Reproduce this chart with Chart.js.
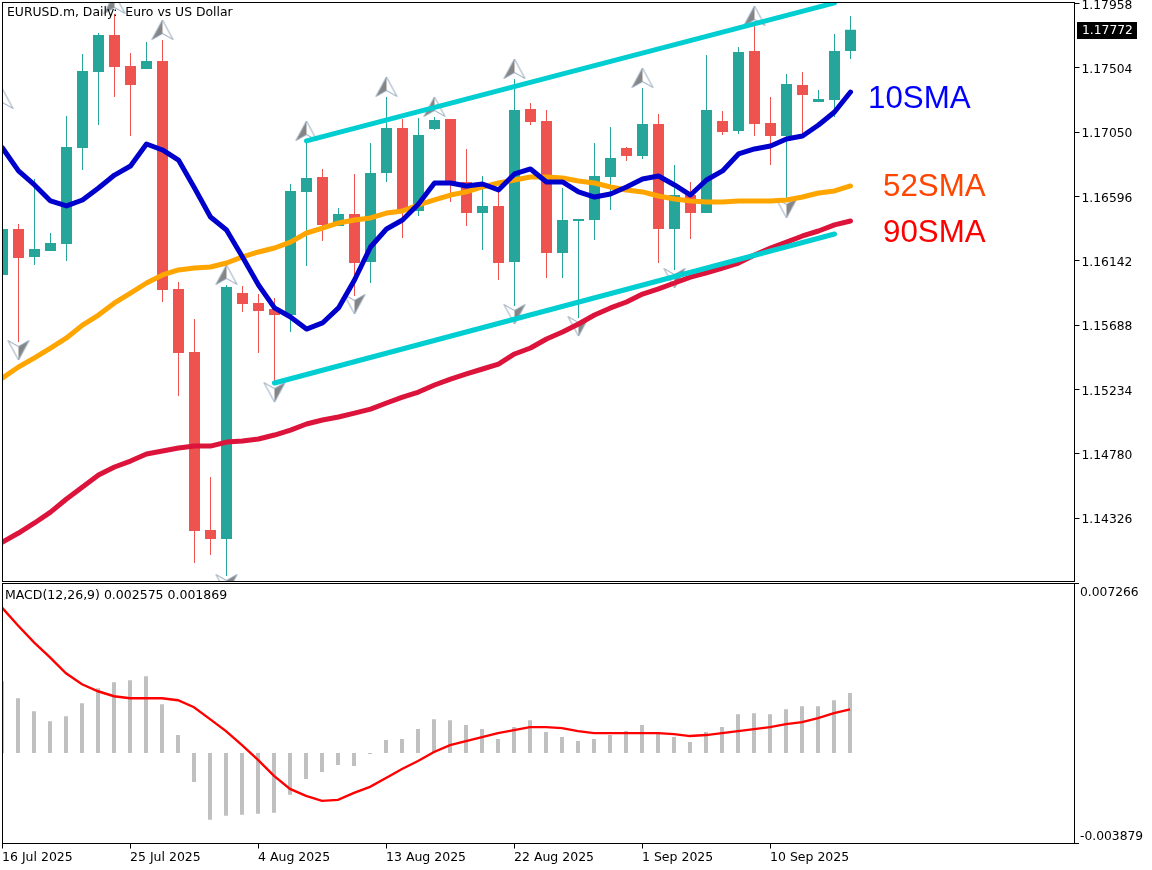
<!DOCTYPE html>
<html>
<head>
<meta charset="utf-8">
<title>EURUSD.m Daily</title>
<script src="https://cdn.jsdelivr.net/npm/chart.js@4/dist/chart.umd.min.js"></script>
<style>
    body { margin: 0; background: #fff; }
    canvas { position: absolute; left: 0; }
    #priceChart { top: 0; }
    #macdChart { top: 582px; }
</style>
</head>
<body>
<canvas id="priceChart" width="1152" height="582"></canvas>
<canvas id="macdChart" width="1152" height="288"></canvas>
<script>
// one slot per daily bar (the broker has Sunday bars), the last 14 are the empty space on the right
const dates = [
    '16 Jul 2025', '17 Jul 2025', '18 Jul 2025', '20 Jul 2025', '21 Jul 2025', '22 Jul 2025', '23 Jul 2025', '24 Jul 2025',
    '25 Jul 2025', '27 Jul 2025', '28 Jul 2025', '29 Jul 2025', '30 Jul 2025', '31 Jul 2025', '1 Aug 2025', '3 Aug 2025',
    '4 Aug 2025', '5 Aug 2025', '6 Aug 2025', '7 Aug 2025', '8 Aug 2025', '10 Aug 2025', '11 Aug 2025', '12 Aug 2025',
    '13 Aug 2025', '14 Aug 2025', '15 Aug 2025', '17 Aug 2025', '18 Aug 2025', '19 Aug 2025', '20 Aug 2025', '21 Aug 2025',
    '22 Aug 2025', '24 Aug 2025', '25 Aug 2025', '26 Aug 2025', '27 Aug 2025', '28 Aug 2025', '29 Aug 2025', '31 Aug 2025',
    '1 Sep 2025', '2 Sep 2025', '3 Sep 2025', '4 Sep 2025', '5 Sep 2025', '7 Sep 2025', '8 Sep 2025', '9 Sep 2025',
    '10 Sep 2025', '11 Sep 2025', '12 Sep 2025', '14 Sep 2025', '15 Sep 2025', '16 Sep 2025',
    '17 Sep 2025', '18 Sep 2025', '19 Sep 2025', '21 Sep 2025', '22 Sep 2025', '23 Sep 2025', '24 Sep 2025',
    '25 Sep 2025', '26 Sep 2025', '28 Sep 2025', '29 Sep 2025', '30 Sep 2025', '1 Oct 2025', '2 Oct 2025'
];
const dateTickEvery = 8;
const lastDateTick = 48;

const opens = [
    1.16042, 1.16366, 1.16169, 1.16211, 1.16260, 1.16938, 1.17475, 1.17736, 1.17517, 1.17496,
    1.17552, 1.15943, 1.15498, 1.14241, 1.14178, 1.15914, 1.15844, 1.15801, 1.15759, 1.16628,
    1.16733, 1.16388, 1.16472, 1.16133, 1.16762, 1.17079, 1.16493, 1.17072, 1.17143, 1.16698,
    1.16479, 1.16529, 1.16133, 1.17213, 1.17129, 1.16197, 1.16423, 1.16430, 1.16733, 1.16938,
    1.16882, 1.17108, 1.16366, 1.16606, 1.16479, 1.17129, 1.17058, 1.17623, 1.17115, 1.17023,
    1.17383, 1.17263, 1.17277, 1.17623
];
const highs = [
    1.16395, 1.16402, 1.16719, 1.16338, 1.17164, 1.17602, 1.17750, 1.17884, 1.17609, 1.17686,
    1.17701, 1.15992, 1.15731, 1.14615, 1.15971, 1.15964, 1.15907, 1.15879, 1.16684, 1.16988,
    1.16790, 1.16515, 1.16755, 1.16973, 1.17298, 1.17143, 1.17150, 1.17157, 1.17143, 1.16931,
    1.16740, 1.16642, 1.17425, 1.17256, 1.17206, 1.16656, 1.16437, 1.16973, 1.17086, 1.16945,
    1.17362, 1.17178, 1.16818, 1.16698, 1.17595, 1.17199, 1.17651, 1.17799, 1.17298, 1.17461,
    1.17475, 1.17348, 1.17743, 1.17870
];
const lows = [
    1.16042, 1.15568, 1.16112, 1.16211, 1.16140, 1.16783, 1.17100, 1.17298, 1.17023, 1.17496,
    1.15851, 1.15187, 1.14008, 1.14065, 1.13916, 1.15780, 1.15491, 1.15279, 1.15639, 1.16105,
    1.16282, 1.16388, 1.15893, 1.15985, 1.16698, 1.16303, 1.16458, 1.17065, 1.16557, 1.16388,
    1.16218, 1.16006, 1.15823, 1.17100, 1.16020, 1.16020, 1.15738, 1.16289, 1.16500, 1.16846,
    1.16860, 1.16126, 1.16077, 1.16296, 1.16479, 1.17030, 1.17037, 1.17023, 1.16818, 1.16571,
    1.17030, 1.17263, 1.17157, 1.17566
];
const closes = [
    1.16366, 1.16162, 1.16225, 1.16267, 1.16945, 1.17482, 1.17736, 1.17510, 1.17383, 1.17552,
    1.15936, 1.15491, 1.14234, 1.14178, 1.15957, 1.15837, 1.15787, 1.15759, 1.16635, 1.16726,
    1.16395, 1.16472, 1.16126, 1.16762, 1.17079, 1.16508, 1.17030, 1.17136, 1.16698, 1.16479,
    1.16529, 1.16126, 1.17206, 1.17122, 1.16197, 1.16430, 1.16437, 1.16740, 1.16868, 1.16882,
    1.17108, 1.16366, 1.16606, 1.16479, 1.17206, 1.17051, 1.17616, 1.17108, 1.17023, 1.17390,
    1.17312, 1.17284, 1.17623, 1.17772
];

const sma10 = [
    1.16938, 1.16776, 1.16677, 1.16564, 1.16529, 1.16571, 1.16656, 1.16747, 1.16811, 1.16966,
    1.16924, 1.16853, 1.16656, 1.16451, 1.16359, 1.16169, 1.15971, 1.15809, 1.15745, 1.15660,
    1.15703, 1.15809, 1.16006, 1.16239, 1.16366, 1.16430, 1.16543, 1.16691, 1.16691, 1.16670,
    1.16684, 1.16642, 1.16755, 1.16790, 1.16698, 1.16698, 1.16628, 1.16592, 1.16613, 1.16663,
    1.16719, 1.16740, 1.16677, 1.16606, 1.16712, 1.16776, 1.16896, 1.16931, 1.16952, 1.17002,
    1.17023, 1.17100, 1.17192, 1.17333
];
const sma52 = [
    1.15314, 1.15392, 1.15456, 1.15526, 1.15597, 1.15688, 1.15759, 1.15844, 1.15914, 1.15985,
    1.16042, 1.16077, 1.16091, 1.16098, 1.16126, 1.16169, 1.16204, 1.16232, 1.16274, 1.16338,
    1.16373, 1.16409, 1.16430, 1.16444, 1.16479, 1.16493, 1.16536, 1.16571, 1.16606, 1.16628,
    1.16663, 1.16691, 1.16712, 1.16733, 1.16733, 1.16726, 1.16705, 1.16691, 1.16663, 1.16642,
    1.16628, 1.16599, 1.16578, 1.16564, 1.16557, 1.16557, 1.16564, 1.16564, 1.16564, 1.16571,
    1.16592, 1.16620, 1.16635, 1.16670
];
const sma90 = [
    1.14156, 1.14220, 1.14291, 1.14368, 1.14460, 1.14545, 1.14629, 1.14686, 1.14728, 1.14778,
    1.14799, 1.14820, 1.14834, 1.14834, 1.14862, 1.14870, 1.14884, 1.14912, 1.14947, 1.14990,
    1.15018, 1.15039, 1.15067, 1.15095, 1.15138, 1.15180, 1.15215, 1.15265, 1.15307, 1.15343,
    1.15378, 1.15413, 1.15484, 1.15526, 1.15590, 1.15639, 1.15696, 1.15759, 1.15809, 1.15851,
    1.15907, 1.15943, 1.15985, 1.16027, 1.16056, 1.16091, 1.16126, 1.16183, 1.16232, 1.16274,
    1.16317, 1.16352, 1.16395, 1.16423
];

const channelTopDates = ['7 Aug 2025', '15 Sep 2025'];
const channelTopPrices = [1.16988, 1.17962];
const channelBottomDates = ['5 Aug 2025', '15 Sep 2025'];
const channelBottomPrices = [1.15279, 1.16331];

const arrowUpDates = ['16 Jul 2025', '24 Jul 2025', '28 Jul 2025', '1 Aug 2025', '7 Aug 2025', '13 Aug 2025', '17 Aug 2025', '22 Aug 2025', '1 Sep 2025', '9 Sep 2025'];
const arrowUpPrices = [1.17284, 1.17955, 1.17771, 1.16042, 1.17058, 1.17369, 1.17228, 1.17496, 1.17432, 1.17870];
const arrowDownDates = ['17 Jul 2025', '1 Aug 2025', '5 Aug 2025', '11 Aug 2025', '22 Aug 2025', '27 Aug 2025', '3 Sep 2025', '11 Sep 2025'];
const arrowDownPrices = [1.15512, 1.13860, 1.15215, 1.15837, 1.15766, 1.15681, 1.16020, 1.16515];

const macdHistogram = [
    0.003074, 0.002349, 0.001793, 0.001366, 0.001580, 0.002135, 0.002776, 0.003032, 0.003117, 0.003288,
    0.002092, 0.000769, -0.001238, -0.002861, -0.002690, -0.002647, -0.002605, -0.002562, -0.001793, -0.001110,
    -0.000811, -0.000512, -0.000555, -0.000043, 0.000555, 0.000598, 0.001025, 0.001452, 0.001409, 0.001196,
    0.001025, 0.000598, 0.001110, 0.001409, 0.000897, 0.000683, 0.000512, 0.000598, 0.000769, 0.000939,
    0.001196, 0.000854, 0.000683, 0.000470, 0.000897, 0.001110, 0.001665, 0.001708, 0.001665, 0.001879,
    0.002007, 0.002007, 0.002263, 0.002575
];
const macdSignal = [
    0.006234, 0.005466, 0.004740, 0.004099, 0.003416, 0.002946, 0.002647, 0.002434, 0.002349, 0.002349,
    0.002349, 0.002263, 0.001964, 0.001452, 0.000939, 0.000342, -0.000299, -0.000982, -0.001537, -0.001836,
    -0.002050, -0.002007, -0.001708, -0.001452, -0.001068, -0.000683, -0.000342, 0.000043, 0.000342, 0.000512,
    0.000683, 0.000854, 0.000982, 0.001110, 0.001110, 0.001068, 0.000939, 0.000854, 0.000854, 0.000854,
    0.000854, 0.000854, 0.000811, 0.000726, 0.000769, 0.000854, 0.000939, 0.001025, 0.001110, 0.001238,
    0.001324, 0.001495, 0.001708, 0.001869
];

const priceTicks = [1.17958, 1.17504, 1.17050, 1.16596, 1.16142, 1.15688, 1.15234, 1.14780, 1.14326];
const macdTicks = [0.007266, -0.003879];
const lastPrice = 1.17772;

const UP_COLOR = '#26a69a';
const DOWN_COLOR = '#ef5350';

Chart.defaults.font.family = '"DejaVu Sans", sans-serif';
Chart.defaults.font.size = 12.5;
Chart.defaults.color = '#000';
Chart.defaults.animation = false;

const candleColors = closes.map((c, i) => c >= opens[i] ? UP_COLOR : DOWN_COLOR);

// grey half / white half arrow used by the fractal marks
function makeArrow(pointsDown) {
    const c = document.createElement('canvas');
    c.width = 24;
    c.height = 22;
    const g = c.getContext('2d');
    if (pointsDown) {
        g.translate(24, 22);
        g.rotate(Math.PI);
    }
    g.beginPath();
    g.moveTo(12, 1); g.lineTo(1.5, 20.5); g.lineTo(12, 14.5); g.lineTo(22.5, 20.5); g.closePath();
    g.fillStyle = '#fff';
    g.fill();
    g.beginPath();
    g.moveTo(12, 1); g.lineTo(1.5, 20.5); g.lineTo(12, 14.5); g.closePath();
    g.fillStyle = '#858585';
    g.fill();
    g.beginPath();
    g.moveTo(12, 1); g.lineTo(1.5, 20.5); g.lineTo(12, 14.5); g.lineTo(22.5, 20.5); g.closePath();
    g.strokeStyle = '#8fa3b8';
    g.lineWidth = 1;
    g.stroke();
    return c;
}

function xyPoints(xs, ys) {
    return xs.map((x, i) => ({ x: x, y: ys[i] }));
}

function lineSet(data, color, order) {
    return {
        type: 'line', data: data, borderColor: color, borderWidth: 5, tension: 0, pointRadius: 0,
        borderCapStyle: 'round', borderJoinStyle: 'round', order: order, clip: 0
    };
}

function arrowSet(data, image) {
    return {
        type: 'line', data: data, showLine: false, pointStyle: image, pointRadius: 11,
        order: 40, clip: 0
    };
}

// tick labels must not push the panel inwards
function noAxisPadding(axis) {
    axis.paddingTop = 0;
    axis.paddingBottom = 0;
    axis.paddingLeft = 0;
    axis.paddingRight = 0;
}

// the thin black frame around each panel
const panelFrame = {
    id: 'panelFrame',
    afterDraw(chart) {
        const a = chart.chartArea;
        const ctx = chart.ctx;
        ctx.save();
        ctx.strokeStyle = '#000';
        ctx.lineWidth = 1;
        const left = Math.floor(a.left) + 0.5;
        const top = Math.floor(a.top) + 0.5;
        ctx.strokeRect(left, top, Math.floor(a.right) + 0.5 - left, Math.floor(a.bottom) + 0.5 - top);
        ctx.restore();
    }
};

// panel captions, SMA names and the last price tag
const priceNotes = {
    id: 'priceNotes',
    afterDraw(chart) {
        const ctx = chart.ctx;
        ctx.save();
        ctx.textBaseline = 'middle';
        ctx.textAlign = 'left';
        ctx.font = '12.4px "DejaVu Sans"';
        ctx.fillStyle = '#000';
        ctx.fillText('EURUSD.m, Daily:  Euro vs US Dollar', 7, 13);
        ctx.font = '31.3px "Liberation Sans"';
        ctx.fillStyle = '#0000ff';
        ctx.fillText('10SMA', 868, 99);
        ctx.fillStyle = '#ff4500';
        ctx.fillText('52SMA', 883, 187);
        ctx.fillStyle = '#ff0000';
        ctx.fillText('90SMA', 883, 233);
        const y = chart.scales.y.getPixelForValue(lastPrice);
        ctx.fillStyle = '#000';
        ctx.fillRect(1077, Math.round(y) - 8, 60, 17);
        ctx.font = '12.3px "DejaVu Sans"';
        ctx.fillStyle = '#fff';
        ctx.fillText(lastPrice.toFixed(5), 1082, Math.round(y) + 1);
        ctx.restore();
    }
};

const macdNotes = {
    id: 'macdNotes',
    afterDraw(chart) {
        const ctx = chart.ctx;
        ctx.save();
        ctx.textBaseline = 'middle';
        ctx.font = '12.5px "DejaVu Sans"';
        ctx.fillStyle = '#000';
        ctx.fillText('MACD(12,26,9) 0.002575 0.001869', 5, 14);
        ctx.restore();
    }
};

function dateAxis(showLabels, axisHeight) {
    return {
        type: 'category',
        offset: false,
        display: showLabels,
        grid: { offset: false, drawOnChartArea: false, color: '#000', tickLength: 5 },
        border: { color: '#000' },
        ticks: { autoSkip: false, maxRotation: 0, minRotation: 0, align: 'start', padding: 2 },
        afterBuildTicks(axis) {
            axis.ticks = axis.ticks.filter(t => t.value % dateTickEvery === 0 && t.value <= lastDateTick);
        },
        afterFit(axis) {
            if (axisHeight) axis.height = axisHeight;
            noAxisPadding(axis);
        }
    };
}

// Price panel
new Chart(document.getElementById('priceChart'), {
    type: 'bar',
    data: {
        labels: dates,
        datasets: [
            {
                data: lows.map((l, i) => [l, highs[i]]), backgroundColor: candleColors, barThickness: 1,
                grouped: false, inflateAmount: 0, order: 60
            },
            {
                data: opens.map((o, i) => [o, closes[i]]), backgroundColor: candleColors, barThickness: 11,
                grouped: false, inflateAmount: 0, order: 50
            },
            arrowSet(xyPoints(arrowUpDates, arrowUpPrices), makeArrow(false)),
            arrowSet(xyPoints(arrowDownDates, arrowDownPrices), makeArrow(true)),
            lineSet(sma52, '#ffa500', 30),
            lineSet(sma90, '#dc143c', 25),
            lineSet(sma10, '#0000cd', 20),
            lineSet(xyPoints(channelTopDates, channelTopPrices), '#00ced1', 10),
            lineSet(xyPoints(channelBottomDates, channelBottomPrices), '#00ced1', 10)
        ]
    },
    options: {
        responsive: false,
        devicePixelRatio: 1,
        events: [],
        layout: { autoPadding: false, padding: { left: 2.5, top: 2.5, bottom: 0.5, right: 0 } },
        plugins: { legend: { display: false }, tooltip: { enabled: false } },
        scales: {
            x: dateAxis(false),
            y: {
                position: 'right',
                min: 1.13878,
                max: 1.17965,
                grid: { drawOnChartArea: false, color: '#000', tickLength: 5 },
                border: { color: '#000' },
                ticks: { autoSkip: false, padding: 2, labelOffset: 2, font: { size: 12.3 }, callback: v => v.toFixed(5) },
                afterBuildTicks(axis) {
                    axis.ticks = priceTicks.map(v => ({ value: v }));
                },
                afterFit(axis) {
                    axis.width = 77.5;
                    noAxisPadding(axis);
                }
            }
        }
    },
    plugins: [panelFrame, priceNotes]
});

// MACD panel
new Chart(document.getElementById('macdChart'), {
    type: 'bar',
    data: {
        labels: dates,
        datasets: [
            { data: macdHistogram, backgroundColor: '#c0c0c0', barThickness: 4, inflateAmount: 0, order: 20 },
            {
                type: 'line', data: macdSignal, borderColor: '#ff0000', borderWidth: 2.4, tension: 0,
                pointRadius: 0, order: 10, clip: 0
            }
        ]
    },
    options: {
        responsive: false,
        devicePixelRatio: 1,
        events: [],
        layout: { autoPadding: false, padding: { left: 2, top: 1.5, bottom: 0, right: 0 } },
        plugins: { legend: { display: false }, tooltip: { enabled: false } },
        scales: {
            x: dateAxis(true, 26.5),
            y: {
                position: 'right',
                min: macdTicks[1],
                max: macdTicks[0],
                grid: { drawOnChartArea: false, color: '#000', tickLength: 5 },
                border: { color: '#000' },
                ticks: {
                    autoSkip: false,
                    padding: 1,
                    labelOffset: 1.5,
                    font: { size: 12.3, lineHeight: 1.3 },
                    // the end labels sit just inside the panel, an empty line pushes them off their tick
                    callback: v => v > 0 ? ['', v.toFixed(6)] : [v.toFixed(6), '']
                },
                afterBuildTicks(axis) {
                    axis.ticks = macdTicks.map(v => ({ value: v }));
                },
                afterFit(axis) {
                    axis.width = 78;
                    noAxisPadding(axis);
                }
            }
        }
    },
    plugins: [panelFrame, macdNotes]
});
</script>
</body>
</html>
